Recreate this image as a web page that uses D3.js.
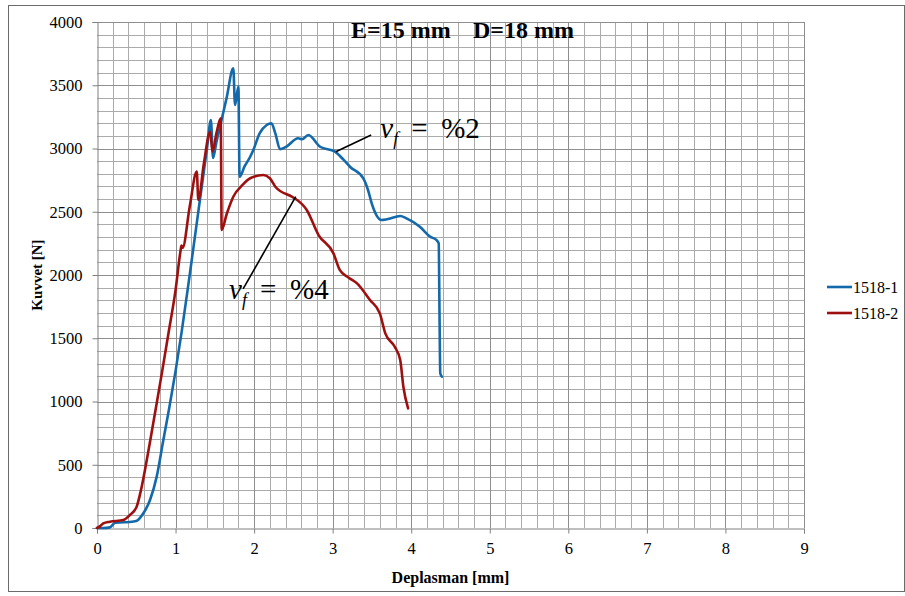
<!DOCTYPE html>
<html>
<head>
<meta charset="utf-8">
<script src="https://cdn.jsdelivr.net/npm/d3@7"></script>
<style>
  html, body { margin: 0; padding: 0; background: #fff; }
  svg { display: block; }
  text { font-family: "Liberation Serif", "Times New Roman", serif; fill: #000; }
</style>
</head>
<body>
<svg id="chart" width="905" height="596"></svg>
<script>
// Force–displacement curves for two specimens
const seriesNames = ["1518-1", "1518-2"];
const seriesColors = ["#1369aa", "#9e1010"];

// 1518-1 : [displacement mm, force N]
const series1 = [
  [0,0],[0.08,0],[0.165,5],[0.23,42],[0.35,45],[0.50,55],[0.59,116],[0.675,221],
  [0.76,406],[0.84,680],[0.92,950],[1.0,1240],[1.08,1560],[1.18,2000],[1.31,2593],
  [1.40,3000],[1.45,3225],[1.477,2925],[1.52,3050],[1.566,3172],[1.65,3400],
  [1.735,3634],[1.757,3344],[1.80,3490],[1.815,2777],[1.88,2860],[1.95,2935],
  [1.99,2988],[2.07,3120],[2.16,3186],[2.22,3199],[2.27,3120],[2.33,2994],[2.41,3014],
  [2.56,3081],[2.61,3073],[2.69,3107],[2.84,3014],[3.03,2975],[3.14,2910],[3.22,2856],
  [3.39,2764],[3.45,2672],[3.50,2560],[3.56,2470],[3.62,2435],[3.69,2440],[3.86,2466],
  [3.94,2448],[4.11,2382],[4.24,2303],[4.32,2277],[4.35,2250],[4.36,1700],[4.37,1223],
  [4.39,1196]
];

// 1518-2 : [displacement mm, force N]
const series2 = [
  [0,0],[0.04,15],[0.08,37],[0.165,50],[0.335,63],[0.42,103],[0.505,169],[0.56,300],
  [0.62,490],[0.68,700],[0.75,950],[0.83,1240],[0.91,1540],[1.0,1880],[1.065,2198],[1.075,2232],
  [1.09,2215],[1.18,2540],[1.27,2817],[1.29,2593],[1.36,2880],[1.44,3133],[1.47,2975],
  [1.52,3120],[1.575,3239],[1.587,2356],[1.65,2480],[1.735,2619],[1.85,2710],
  [1.95,2765],[2.117,2790],[2.2,2765],[2.27,2698],[2.48,2619],[2.52,2605],[2.67,2514],
  [2.82,2316],[3.01,2171],[3.09,2040],[3.20,1980],[3.31,1934],[3.475,1802],[3.60,1697],
  [3.67,1539],[3.79,1433],[3.86,1328],[3.90,1117],[3.96,946]
];

const xTicks = [0,1,2,3,4,5,6,7,8,9];
const yTicks = [0,500,1000,1500,2000,2500,3000,3500,4000];

const titleLeft = "E=15 mm";
const titleRight = "D=18 mm";
const xTitle = "Deplasman [mm]";
const yTitle = "Kuvvet [N]";

// Callout labels: value label, point on curve, label anchor (data units)
const callouts = [
  { pct: "%2", from: [3.04, 2975], to: [3.49, 3107] },
  { pct: "%4", from: [2.53, 2620], to: [1.86, 1890] }
];

const svg = d3.select("#chart");
const W = 905, H = 596;
const margin = { left: 97, top: 22, right: 101, bottom: 68 };

const x = d3.scaleLinear().domain([0, 9]).range([margin.left, W - margin.right]);
const y = d3.scaleLinear().domain([0, 4000]).range([H - margin.bottom, margin.top]);

// outer frame
svg.append("rect")
  .attr("x", 8.5).attr("y", 5.5)
  .attr("width", W - 9).attr("height", H - 10)
  .attr("fill", "none").attr("stroke", "#6b6b6b").attr("stroke-width", 1);

// grid: minor every 0.2 mm / 100 N, major on ticks
const grid = svg.append("g");
const minorX = d3.range(0, 45 + 1).map(i => i * 0.2).filter((v, i) => i % 5 !== 0);
const minorY = d3.range(0, 40 + 1).map(i => i * 100).filter((v, i) => i % 5 !== 0);
grid.selectAll(".vx").data(minorX).join("line")
  .attr("x1", d => Math.round(x(d)) + 0.5).attr("x2", d => Math.round(x(d)) + 0.5)
  .attr("y1", y(0)).attr("y2", y(4000))
  .attr("stroke", "#ababab").attr("stroke-width", 1);
grid.selectAll(".hy").data(minorY).join("line")
  .attr("y1", d => Math.round(y(d)) + 0.5).attr("y2", d => Math.round(y(d)) + 0.5)
  .attr("x1", x(0)).attr("x2", x(9))
  .attr("stroke", "#ababab").attr("stroke-width", 1);
grid.selectAll(".mx").data(xTicks.slice(1)).join("line")
  .attr("x1", d => Math.round(x(d)) + 0.5).attr("x2", d => Math.round(x(d)) + 0.5)
  .attr("y1", y(0)).attr("y2", y(4000))
  .attr("stroke", "#8e8e8e").attr("stroke-width", 1);
grid.selectAll(".my").data(yTicks.slice(1)).join("line")
  .attr("y1", d => Math.round(y(d)) + 0.5).attr("y2", d => Math.round(y(d)) + 0.5)
  .attr("x1", x(0)).attr("x2", x(9))
  .attr("stroke", "#8e8e8e").attr("stroke-width", 1);

// axes
const xAxis = svg.append("g")
  .attr("transform", `translate(0,${Math.round(y(0)) + 0.5})`)
  .call(d3.axisBottom(x).tickValues(xTicks).tickFormat(d3.format("d")).tickSize(5).tickPadding(9));
const yAxis = svg.append("g")
  .attr("transform", `translate(${Math.round(x(0)) + 0.5},0)`)
  .call(d3.axisLeft(y).tickValues(yTicks).tickFormat(d3.format("d")).tickSize(5).tickPadding(10));
[xAxis, yAxis].forEach(a => {
  a.select(".domain").attr("stroke", "#808080");
  a.selectAll(".tick line").attr("stroke", "#808080");
  a.selectAll("text").attr("font-family", "Liberation Serif, serif").attr("fill", "#000");
});
xAxis.selectAll("text").attr("font-size", 16.5);
yAxis.selectAll("text").attr("font-size", 16.5);

// curves
const line = d3.line().x(d => x(d[0])).y(d => y(d[1])).curve(d3.curveMonotoneX);
[series1, series2].forEach((s, i) => {
  svg.append("path").datum(s)
    .attr("d", line)
    .attr("fill", "none")
    .attr("stroke", seriesColors[i])
    .attr("stroke-width", 2.6)
    .attr("stroke-linejoin", "round")
    .attr("stroke-linecap", "round");
});

// title
svg.append("text").attr("x", 351).attr("y", 38)
  .attr("font-size", 24).attr("font-weight", "bold").text(titleLeft);
svg.append("text").attr("x", 473).attr("y", 38)
  .attr("font-size", 24).attr("font-weight", "bold").text(titleRight);

// axis titles
svg.append("text")
  .attr("x", (x(0) + x(9)) / 2).attr("y", 583)
  .attr("text-anchor", "middle").attr("font-size", 16).attr("font-weight", "bold")
  .text(xTitle);
svg.append("text")
  .attr("transform", `translate(42,${(y(0) + y(4000)) / 2}) rotate(-90)`)
  .attr("text-anchor", "middle").attr("font-size", 15).attr("font-weight", "bold")
  .text(yTitle);

// legend
const legend = svg.append("g");
seriesNames.forEach((name, i) => {
  const ly = 287 + i * 26;
  legend.append("line")
    .attr("x1", 827).attr("x2", 852).attr("y1", ly).attr("y2", ly)
    .attr("stroke", seriesColors[i]).attr("stroke-width", 2.6);
  legend.append("text").attr("x", 853).attr("y", ly + 5.5)
    .attr("font-size", 16).text(name);
});

// callouts with leader lines
callouts.forEach(c => {
  svg.append("line")
    .attr("x1", x(c.from[0])).attr("y1", y(c.from[1]))
    .attr("x2", x(c.to[0])).attr("y2", y(c.to[1]))
    .attr("stroke", "#000").attr("stroke-width", 1.6);
});
function callLabel(px, py, pct) {
  const g = svg.append("g").attr("transform", `translate(${px},${py})`);
  g.append("text").attr("x", 0).attr("y", 0).attr("font-size", 29).attr("font-style", "italic").text("v");
  g.append("text").attr("x", 13).attr("y", 7).attr("font-size", 18).attr("font-style", "italic").text("f");
  g.append("text").attr("x", 31).attr("y", 0).attr("font-size", 29).text("=");
  g.append("text").attr("x", 61).attr("y", 0).attr("font-size", 29).text(pct);
  return g;
}
callLabel(x(3.49) + 9, y(3107) + 3, callouts[0].pct);
callLabel(x(1.86) - 14, y(1890) + 10, callouts[1].pct);
</script>
</body>
</html>
